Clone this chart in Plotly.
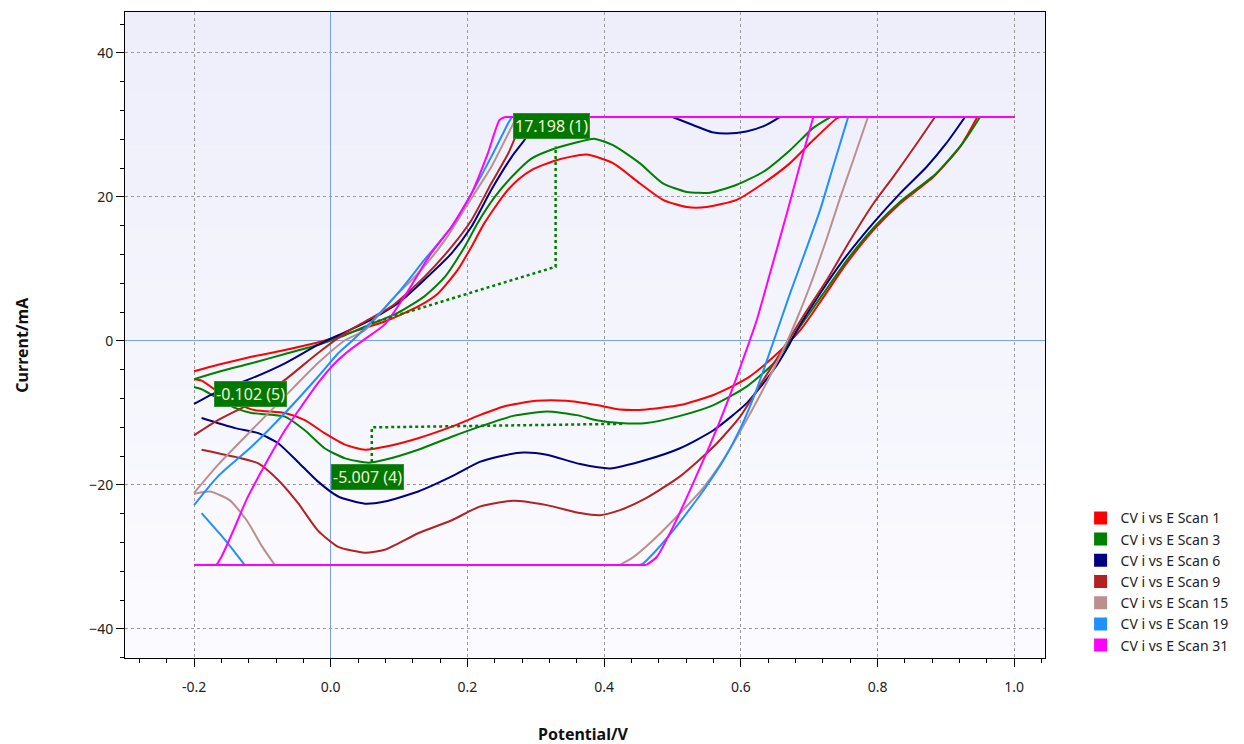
import plotly.graph_objects as go

# ---------------- data (potential V, current mA) ----------------
scan1_v = [-0.2, -0.165, -0.116, -0.067, -0.019, 0.0, 0.05, 0.079, 0.128, 0.157, 0.186, 0.206, 0.225, 0.255, 0.274, 0.295, 0.33, 0.374, 0.413, 0.452, 0.486, 0.521, 0.55, 0.594, 0.633, 0.672, 0.706, 0.74, 0.745, 1.0,
           0.946, 0.921, 0.882, 0.833, 0.794, 0.755, 0.721, 0.687, 0.648, 0.609, 0.56, 0.511, 0.462, 0.423, 0.389, 0.345, 0.301, 0.257, 0.218, 0.177, 0.128, 0.079, 0.05, 0.021, -0.009, -0.038, -0.067, -0.116, -0.155, -0.189, -0.2]
scan1_i = [-4.2, -3.3, -2.2, -1.25, -0.2, 0.3, 1.8, 2.7, 4.8, 6.6, 9.9, 13.1, 16.4, 20.5, 22.4, 23.8, 25.1, 25.9, 24.7, 21.9, 19.6, 18.6, 18.6, 19.6, 21.9, 24.7, 27.9, 30.9, 31.1, 31.1,
           31.1, 27.0, 22.8, 19.1, 15.4, 10.8, 6.1, 1.5, -2.2, -5.2, -7.5, -8.9, -9.5, -9.5, -8.9, -8.3, -8.3, -9.0, -10.3, -11.9, -13.5, -14.7, -15.1, -14.4, -12.8, -11.0, -10.0, -9.5, -7.7, -5.5, -5.3]

scan3_v = [-0.2, -0.165, -0.116, -0.067, -0.019, 0.016, 0.05, 0.098, 0.137, 0.167, 0.196, 0.215, 0.24, 0.265, 0.293, 0.33, 0.365, 0.385, 0.413, 0.452, 0.486, 0.521, 0.555, 0.594, 0.633, 0.672, 0.706, 0.731, 1.0,
           0.95, 0.925, 0.885, 0.835, 0.795, 0.755, 0.72, 0.686, 0.648, 0.609, 0.56, 0.511, 0.462, 0.423, 0.389, 0.36, 0.316, 0.267, 0.218, 0.177, 0.128, 0.079, 0.055, 0.021, -0.009, -0.038, -0.067, -0.116, -0.14, -0.189, -0.2]
scan3_i = [-5.3, -4.3, -3.1, -1.8, -0.55, 0.6, 2.0, 3.9, 6.2, 8.9, 13.1, 16.4, 20.0, 22.8, 25.3, 26.8, 27.7, 28.1, 27.2, 24.7, 21.9, 20.7, 20.6, 21.7, 23.5, 26.5, 29.6, 31.1, 31.1,
           31.1, 27.5, 23.2, 19.5, 15.8, 11.2, 6.5, 1.9, -3.1, -6.3, -8.9, -10.4, -11.4, -11.4, -11.0, -10.3, -9.8, -10.4, -11.9, -13.3, -15.1, -16.5, -16.9, -16.3, -14.9, -12.4, -10.5, -10.0, -9.3, -6.7, -6.4]

scan6_v = [-0.2, -0.165, -0.116, -0.067, -0.019, 0.011, 0.05, 0.098, 0.137, 0.177, 0.206, 0.235, 0.265, 0.287, 0.3, 0.5, 0.53, 0.558, 0.58, 0.608, 0.635, 0.657, 1.0,
           0.928, 0.901, 0.872, 0.833, 0.794, 0.75, 0.716, 0.682, 0.672, 0.648, 0.609, 0.56, 0.511, 0.462, 0.409, 0.365, 0.316, 0.282, 0.243, 0.218, 0.177, 0.128, 0.079, 0.05, 0.011, -0.019, -0.048, -0.077, -0.106, -0.14, -0.189]
scan6_i = [-8.75, -7.0, -5.2, -3.1, -0.55, 0.8, 2.5, 5.2, 8.5, 12.2, 15.9, 21.0, 25.6, 28.4, 31.1, 31.1, 30.0, 29.0, 28.8, 29.1, 29.9, 31.1, 31.1,
           31.1, 27.5, 24.2, 20.5, 16.4, 11.25, 6.6, 1.5, -0.3, -4.0, -8.6, -12.4, -14.9, -16.5, -17.7, -17.1, -15.8, -15.5, -16.1, -16.8, -18.8, -20.9, -22.3, -22.6, -21.6, -19.5, -16.8, -14.2, -12.8, -12.1, -10.7]

scan9_v = [-0.2, -0.165, -0.116, -0.067, -0.019, 0.021, 0.05, 0.089, 0.137, 0.177, 0.206, 0.235, 0.26, 0.279, 0.284, 1.0,
           0.884, 0.858, 0.823, 0.794, 0.76, 0.726, 0.691, 0.667, 0.633, 0.599, 0.56, 0.511, 0.462, 0.423, 0.394, 0.365, 0.316, 0.267, 0.218, 0.177, 0.128, 0.079, 0.05, 0.011, -0.019, -0.048, -0.077, -0.106, -0.14, -0.189]
scan9_i = [-13.1, -11.0, -8.6, -5.4, -1.7, 1.1, 2.7, 4.8, 8.9, 13.1, 16.8, 21.9, 26.1, 30.3, 31.1, 31.1,
           31.1, 27.5, 22.8, 19.1, 14.0, 8.5, 3.4, -0.3, -5.4, -10.5, -14.7, -18.8, -21.8, -23.5, -24.2, -23.9, -22.8, -22.2, -23.0, -24.9, -26.7, -29.0, -29.4, -28.6, -26.3, -22.5, -19.3, -17.0, -16.1, -15.1]

scan15_v = [-0.2, -0.165, -0.116, -0.067, -0.019, 0.021, 0.05, 0.089, 0.128, 0.167, 0.201, 0.235, 0.265, 0.272, 1.0,
            0.786, 0.764, 0.745, 0.726, 0.701, 0.68, 0.665, 0.63, 0.6, 0.575, 0.545, 0.5, 0.47, 0.44, 0.423, -0.082, -0.1, -0.123, -0.148, -0.177, -0.199]
scan15_i = [-21.1, -17.2, -12.4, -7.7, -3.1, 0.1, 1.5, 5.7, 9.4, 14.0, 19.1, 24.2, 29.8, 31.1, 31.1,
            31.1, 25.0, 19.8, 14.3, 7.6, 2.6, -0.6, -7.2, -12.4, -16.4, -20.4, -25.0, -27.8, -30.2, -31.1, -31.1, -28.6, -24.9, -22.1, -20.9, -21.2]

scan19_v = [-0.2, -0.165, -0.116, -0.067, -0.019, 0.011, 0.031, 0.06, 0.098, 0.137, 0.177, 0.206, 0.235, 0.26, 0.265, 1.0,
            0.757, 0.735, 0.716, 0.697, 0.672, 0.648, 0.624, 0.6, 0.575, 0.545, 0.52, 0.496, 0.475, 0.457, 0.452, -0.126, -0.143, -0.163, -0.189]
scan19_i = [-22.8, -18.8, -14.7, -10.0, -5.0, -1.7, 0.0, 2.7, 6.6, 11.25, 15.9, 20.5, 25.6, 30.3, 31.1, 31.1,
            31.1, 24.2, 18.2, 13.1, 6.6, 0.0, -6.5, -12.0, -16.5, -20.8, -24.0, -26.9, -29.2, -30.9, -31.1, -31.1, -29.0, -26.7, -23.9]

scan31_v = [-0.2, -0.167, -0.16, -0.14, -0.123, -0.092, -0.067, -0.043, -0.019, 0.006, 0.03, 0.052, 0.079, 0.108, 0.147, 0.177, 0.206, 0.23, 0.247, 0.255, 1.0,
            0.706, 0.687, 0.667, 0.643, 0.623, 0.611, 0.589, 0.56, 0.53, 0.501, 0.477, 0.462, -0.2]
scan31_i = [-31.1, -31.1, -30.0, -25.8, -22.0, -16.5, -12.4, -9.1, -5.9, -3.1, -1.1, 0.4, 2.3, 6.2, 12.2, 15.9, 20.5, 26.1, 30.7, 31.1, 31.1,
            31.1, 24.6, 17.6, 9.5, 2.8, -0.5, -6.3, -13.3, -19.8, -25.8, -30.0, -31.1, -31.1]

series_names = ["CV i vs E Scan 1", "CV i vs E Scan 3", "CV i vs E Scan 6", "CV i vs E Scan 9",
                "CV i vs E Scan 15", "CV i vs E Scan 19", "CV i vs E Scan 31"]
series_colors = ["#ff0000", "#008000", "#000080", "#b22222", "#bc8f8f", "#1e90ff", "#ff00ff"]
series_v = [scan1_v, scan3_v, scan6_v, scan9_v, scan15_v, scan19_v, scan31_v]
series_i = [scan1_i, scan3_i, scan6_i, scan9_i, scan15_i, scan19_i, scan31_i]
SAT = 31.1  # instrument current limit (mA)

# peak-measurement baselines
base1_v = [0.06, 0.329, 0.329]
base1_i = [2.5, 10.3, 27.0]
base2_v = [0.06, 0.06, 0.43]
base2_i = [-16.8, -12.0, -11.5]

# peak labels: text, left x, centre y
label_text = ["17.198 (1)", "-0.102 (5)", "-5.007 (4)"]
label_v = [0.2665, -0.1713, 0.0]
label_i = [29.9, -7.3, -18.96]

x_ticks = [-0.2, 0.0, 0.2, 0.4, 0.6, 0.8, 1.0]
x_tick_text = ["-0.2", "0.0", "0.2", "0.4", "0.6", "0.8", "1.0"]
y_ticks = [-40, -20, 0, 20, 40]

FONT = "Noto Sans"

fig = go.Figure()


def split_runs(v, i):
    """Split a scan into consecutive runs: clipped (flat) runs and curved runs."""
    runs = []
    for k in range(len(v) - 1):
        flat = abs(i[k]) >= SAT - 0.01 and abs(i[k + 1]) >= SAT - 0.01
        if runs and runs[-1][0] == flat:
            runs[-1][1].append(k + 1)
        else:
            runs.append([flat, [k, k + 1]])
    return runs


for v, i, name, col in zip(series_v, series_i, series_names, series_colors):
    for flat, idx in split_runs(v, i):
        fig.add_trace(go.Scatter(
            x=[v[k] for k in idx], y=[i[k] for k in idx], mode="lines",
            line=dict(color=col, width=2, shape="linear" if flat else "spline",
                      smoothing=0.6 if not flat else None),
            showlegend=False, hoverinfo="skip"))

for bv, bi in [(base1_v, base1_i), (base2_v, base2_i)]:
    fig.add_trace(go.Scatter(x=bv, y=bi, mode="lines",
                             line=dict(color="#008000", width=2.5, dash="dot"),
                             showlegend=False, hoverinfo="skip"))

# legend entries as squares
for name, col in zip(series_names, series_colors):
    fig.add_trace(go.Scatter(x=[None], y=[None], mode="markers", name=name,
                             marker=dict(symbol="square", size=13, color=col)))

# background gradient inside the plot area
n_bands = 24
top = (238, 238, 251)
bot = (251, 251, 255)
shapes = []
for k in range(n_bands):
    t = k / (n_bands - 1)
    c = tuple(round(top[j] + (bot[j] - top[j]) * t) for j in range(3))
    shapes.append(dict(type="rect", xref="x domain", yref="y domain",
                       x0=0, x1=1, y0=1 - (k + 1) / n_bands, y1=1 - k / n_bands,
                       fillcolor="rgb(%d,%d,%d)" % c, line=dict(width=0), layer="below"))

annotations = []
for t, v, i in zip(label_text, label_v, label_i):
    annotations.append(dict(x=v, y=i, xref="x", yref="y", text=t, showarrow=False,
                            xanchor="left", yanchor="middle",
                            font=dict(family=FONT, size=16, color="#f4f4d6"),
                            bgcolor="#007800", bordercolor="#2f8f2f", borderwidth=1, borderpad=1))

annotations.append(dict(x=0.498, y=-0.1176, xref="paper", yref="paper", text="<b>Potential/V</b>",
                        showarrow=False, font=dict(family=FONT, size=16, color="#111"),
                        xanchor="center", yanchor="middle"))
annotations.append(dict(x=-0.112, y=0.485, xref="paper", yref="paper", text="<b>Current/mA</b>",
                        showarrow=False, textangle=-90, font=dict(family=FONT, size=16, color="#111"),
                        xanchor="center", yanchor="middle"))

# page body has an 8px margin: shrink the figure so the plot lands where the reference has it
fig.update_layout(
    width=1236, height=736,
    margin=dict(l=117, r=199, t=4, b=86, autoexpand=False),
    paper_bgcolor="white", plot_bgcolor="#f4f4fc",
    font=dict(family=FONT, size=13, color="#222"),
    shapes=shapes, annotations=annotations,
    legend=dict(x=1.0387, y=0.241, xanchor="left", yanchor="top",
                font=dict(family=FONT, size=14, color="#222"),
                bgcolor="rgba(0,0,0,0)", itemwidth=30, tracegroupgap=0),
)

fig.update_xaxes(range=[-0.301, 1.045], tickmode="array", tickvals=x_ticks, ticktext=x_tick_text,
                 ticks="outside", ticklen=8, tickcolor="black", ticklabelstandoff=8,
                 tickfont=dict(size=14),
                 showline=True, linecolor="black", linewidth=1, mirror=True,
                 showgrid=True, gridcolor="#9a9a9a", griddash="dot", gridwidth=1,
                 zeroline=True, zerolinecolor="#76a0ee", zerolinewidth=1,
                 minor=dict(dtick=0.04, tick0=0, ticks="outside", ticklen=4, tickcolor="black", showgrid=False))
fig.update_yaxes(range=[-44.03, 45.69], tickmode="array", tickvals=y_ticks,
                 ticks="outside", ticklen=8, tickcolor="black", tickfont=dict(size=14),
                 showline=True, linecolor="black", linewidth=1, mirror=True,
                 showgrid=True, gridcolor="#9a9a9a", griddash="dot", gridwidth=1,
                 zeroline=True, zerolinecolor="#76a0ee", zerolinewidth=1,
                 minor=dict(dtick=4, tick0=0, ticks="outside", ticklen=4, tickcolor="black", showgrid=False))

fig.write_html("out.html")
